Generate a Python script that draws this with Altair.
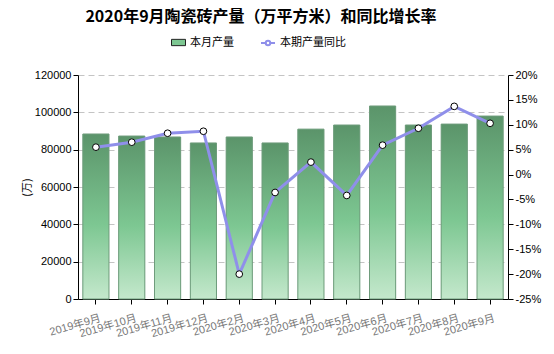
import altair as alt
import pandas as pd

months = ["2019年9月", "2019年10月", "2019年11月", "2019年12月", "2020年2月", "2020年3月",
          "2020年4月", "2020年5月", "2020年6月", "2020年7月", "2020年8月", "2020年9月"]
production = [88400, 87300, 86800, 83600, 86800, 83600, 91000, 93200, 103400, 93200, 93700, 98000]
yoy_pct = [5.5, 6.5, 8.3, 8.7, -20.0, -3.6, 2.5, -4.2, 5.9, 9.3, 13.7, 10.3]

df = pd.DataFrame({
    "month": months,
    "production": production,
    "yoy": yoy_pct,
    "s1": ["本月产量"] * len(months),
    "s2": ["本期产量同比"] * len(months),
})

FONT = "'Liberation Sans', 'Noto Sans CJK SC', sans-serif"
CJK = "'Noto Sans CJK SC', sans-serif"

x_enc = alt.X("month:N", sort=months, title=None,
              scale=alt.Scale(paddingInner=0.27, paddingOuter=0.135),
              axis=alt.Axis(labelAngle=344, labelAlign="right", labelBaseline="top",
                            labelColor="#777777", labelFont=FONT, labelFontSize=11,
                            domainColor="#000000", tickColor="#000000", tickSize=5,
                            labelPadding=8, labelOffset=3))

y_left = alt.Y("production:Q", title="(万)",
               scale=alt.Scale(domain=[0, 120000], nice=False),
               axis=alt.Axis(values=[0, 20000, 40000, 60000, 80000, 100000, 120000],
                             format="d",
                             grid=True, gridDash=[6, 4], gridColor="#c4c4c4",
                             domainColor="#000000", tickColor="#000000", tickSize=5,
                             labelColor="#000000", labelFont=FONT, labelFontSize=11,
                             titleFont=CJK, titleFontSize=11, titleFontWeight="normal",
                             titleColor="#000000", titlePadding=2))

gradient = alt.Gradient(
    gradient="linear", x1=0, x2=0, y1=0, y2=1,
    stops=[alt.GradientStop(color="#5b946a", offset=0),
           alt.GradientStop(color="#7dc792", offset=0.55),
           alt.GradientStop(color="#c4e8cc", offset=1)])

bar_legend = alt.Chart(df).mark_bar().encode(
    x=x_enc, y=y_left,
    color=alt.Color("s1:N", scale=alt.Scale(range=["#7dc792"]),
                    legend=alt.Legend(title=None, orient="none", legendX=93, legendY=-40,
                                      symbolType="M-1,-0.45L1,-0.45L1,0.45L-1,0.45Z",
                                      symbolSize=196, symbolStrokeColor="#222222",
                                      symbolStrokeWidth=1, labelFont=CJK, labelFontSize=11,
                                      labelColor="#000000", padding=0, labelOffset=4)))

bars = alt.Chart(df).mark_bar(fill=gradient, stroke="#6f9c7c", strokeWidth=1).encode(
    x=x_enc, y=y_left)

y_right = alt.Y("yoy:Q", title=None,
                scale=alt.Scale(domain=[-25, 20], nice=False),
                axis=alt.Axis(orient="right", values=list(range(-25, 21, 5)),
                              labelExpr="datum.value + '%'", grid=False,
                              domainColor="#000000", tickColor="#000000", tickSize=5,
                              labelColor="#000000", labelFont=FONT, labelFontSize=11))

line = alt.Chart(df).mark_line(strokeWidth=3).encode(
    x=x_enc, y=y_right,
    stroke=alt.Stroke("s2:N", scale=alt.Scale(range=["#8f8fea"]),
                      legend=alt.Legend(title=None, orient="none", legendX=182, legendY=-40,
                                        symbolType="M-1,0L-0.35,0M0.35,0L1,0M-0.32,0A0.32,0.32 0 1,0 0.32,0A0.32,0.32 0 1,0 -0.32,0",
                                        symbolSize=196, symbolFillColor="#ffffff",
                                        symbolStrokeWidth=2, labelFont=CJK, labelFontSize=11,
                                        labelColor="#000000", padding=0, labelOffset=4)))

points = alt.Chart(df).mark_point(filled=True, fill="#ffffff", stroke="#000000",
                                  strokeWidth=1, size=45, opacity=1).encode(
    x=x_enc, y=y_right)

left = alt.layer(bar_legend, bars)
right = alt.layer(line, points)

chart = alt.layer(left, right).resolve_scale(y="independent").properties(
    width=430, height=224,
    autosize=alt.AutoSizeParams(type="none"),
    padding={"left": 78, "top": 75, "right": 46, "bottom": 55},
    title=alt.TitleParams("2020年9月陶瓷砖产量（万平方米）和同比增长率", font=CJK,
                          fontSize=16, fontWeight="bold", color="#000000",
                          anchor="middle", dx=-32, offset=10),
).configure_view(stroke=None)

chart.save("out.html", embed_options={"renderer": "svg", "actions": False})
